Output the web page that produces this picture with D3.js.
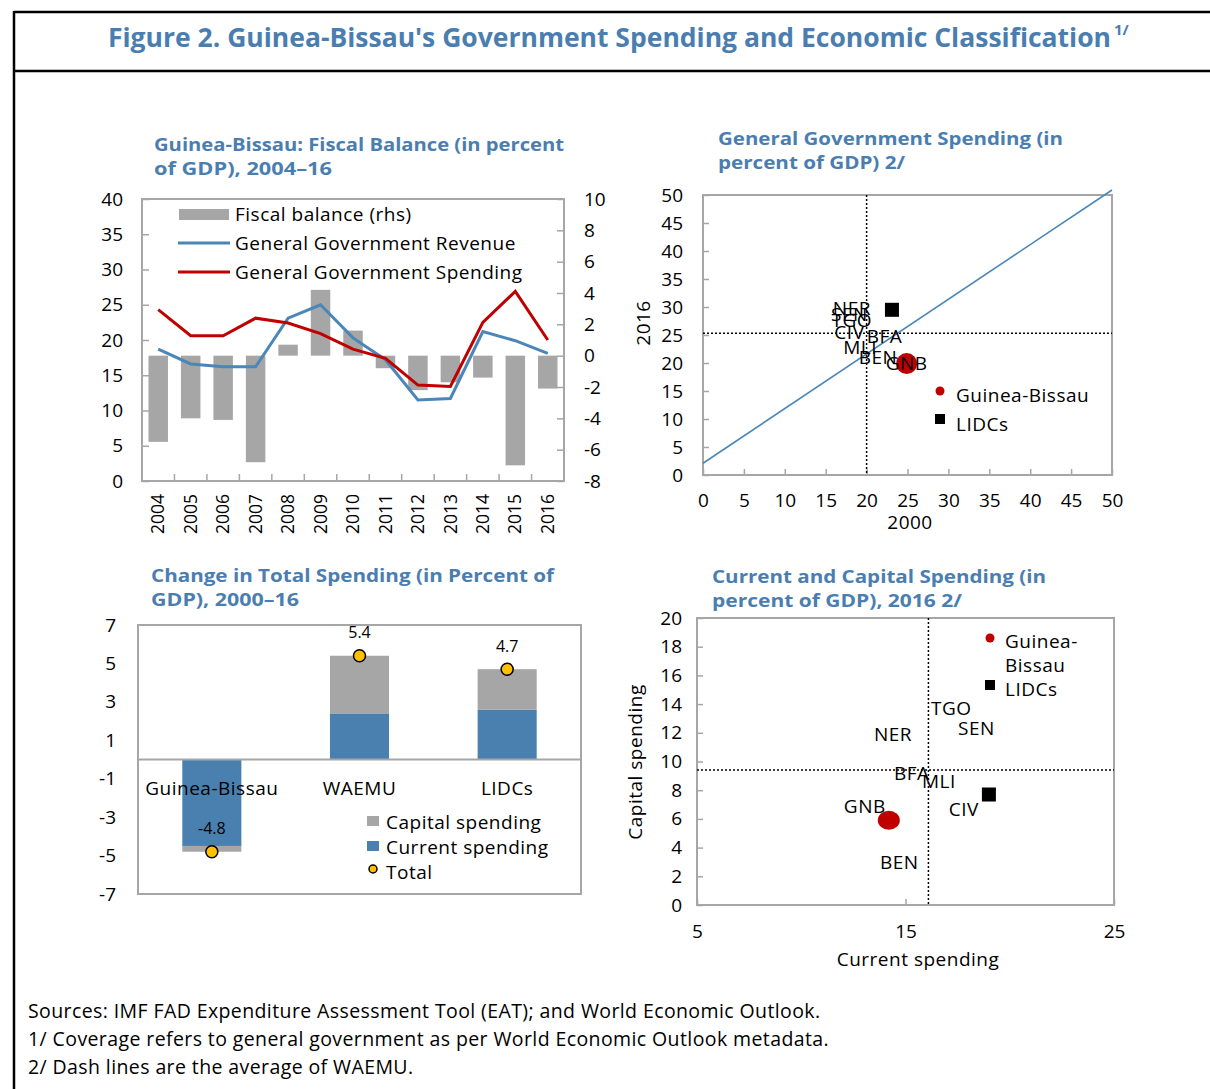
<!DOCTYPE html>
<html>
<head>
<meta charset="utf-8">
<script src="https://cdn.jsdelivr.net/npm/d3@7"></script>
<style>
  body { margin: 0; background: #fff; }
  svg { display: block; }
  text { font-family: "Open Sans", "Noto Sans", sans-serif; fill: #000; }
  .lbl { letter-spacing: 0.5px; }
</style>
</head>
<body>
<svg id="fig" width="1210" height="1089"></svg>
<script>
// ---------- Panel 1: fiscal balance, revenue and spending, 2004-16 ----------
const years = ["2004","2005","2006","2007","2008","2009","2010","2011","2012","2013","2014","2015","2016"];
const fiscalBalance = [-5.5, -4.0, -4.1, -6.8, 0.7, 4.2, 1.6, -0.8, -2.2, -1.7, -1.4, -7.0, -2.1];
const govRevenue   = [18.7, 16.6, 16.2, 16.2, 23.1, 25.0, 20.3, 17.2, 11.5, 11.7, 21.2, 19.9, 18.1];
const govSpending  = [24.3, 20.6, 20.6, 23.1, 22.4, 20.9, 18.7, 17.4, 13.6, 13.4, 22.5, 26.9, 20.0];
const lhsTicks = [0, 5, 10, 15, 20, 25, 30, 35, 40];
const rhsTicks = [-8, -6, -4, -2, 0, 2, 4, 6, 8, 10];

// ---------- Panel 2: spending 2000 vs 2016 ----------
const waemuCodes = ["NER", "SEN", "TGO", "CIV", "BFA", "MLI", "BEN", "GNB"];
const spend2000  = [18.2, 17.9, 18.2, 17.9, 22.2, 19.2, 21.4, 24.9];
const spend2016  = [29.8, 28.6, 27.7, 25.5, 24.8, 22.8, 21.0, 19.9];
const lidcSpend2000 = [23.1];
const lidcSpend2016 = [29.5];
const waemuAvg2000 = [20.0];
const waemuAvg2016 = [25.3];
const trendX = [0, 50];
const trendY = [2.1, 50.9];
const scatterTicks = [0, 5, 10, 15, 20, 25, 30, 35, 40, 45, 50];

// ---------- Panel 3: change in total spending, 2000-16 ----------
const groups = ["Guinea-Bissau", "WAEMU", "LIDCs"];
const currentChange = [-4.5, 2.4, 2.6];
const capitalChange = [-0.3, 3.0, 2.1];
const totalChange   = [-4.8, 5.4, 4.7];
const changeTicks = [-7, -5, -3, -1, 1, 3, 5, 7];

// ---------- Panel 4: current vs capital spending, 2016 ----------
const codes2016    = ["TGO", "SEN", "NER", "BFA", "MLI", "CIV", "GNB", "BEN"];
const currentSpend = [17.2, 18.4, 14.4, 15.3, 16.6, 17.8, 14.2, 14.7];
const capitalSpend = [13.7, 12.3, 11.9, 9.2, 8.65, 6.7, 5.9, 2.95];
const lidcCurrent = [19.0];
const lidcCapital = [7.7];
const waemuAvgCurrent = [16.1];
const waemuAvgCapital = [9.4];
const currentTicks = [5, 15, 25];
const capitalTicks = [0, 2, 4, 6, 8, 10, 12, 14, 16, 18, 20];

// ---------- styles ----------
const BLUE_TITLE = "#4a7eb0";
const FRAME = "#a6a6a6";
const GREY = "#a6a6a6";
const LINE_BLUE = "#4a86b8";
const RED = "#c00000";
const BAR_BLUE = "#4a80b0";
const GOLD = "#ffc000";
const FS = 19;
const plain = d => String(d).replace("\u2212", "-");

const svg = d3.select("#fig");
svg.append("rect").attr("width", 1210).attr("height", 1089).attr("fill", "#fff");

// outer box and title band
svg.append("line").attr("x1", 14).attr("x2", 1210).attr("y1", 12).attr("y2", 12).attr("stroke", "#000").attr("stroke-width", 2.5);
svg.append("line").attr("x1", 14).attr("x2", 1210).attr("y1", 71).attr("y2", 71).attr("stroke", "#000").attr("stroke-width", 2.5);
svg.append("line").attr("x1", 14).attr("x2", 14).attr("y1", 11).attr("y2", 1089).attr("stroke", "#000").attr("stroke-width", 2.5);

// figure title with its footnote marker in one text element
const title = svg.append("text").attr("x", 108).attr("y", 47)
  .style("font-weight", "bold").style("fill", BLUE_TITLE);
title.append("tspan")
  .attr("textLength", 1003).attr("lengthAdjust", "spacingAndGlyphs")
  .style("font-size", "27px")
  .text("Figure 2. Guinea-Bissau's Government Spending and Economic Classification");
title.append("tspan").attr("dx", 3).attr("dy", -12)
  .style("font-size", "15px")
  .text("1/");

function subtitle(x, lines) {
  lines.forEach(l => {
    svg.append("text").attr("x", x).attr("y", l.y)
      .attr("textLength", l.w).attr("lengthAdjust", "spacingAndGlyphs")
      .style("font-size", "17.5px").style("font-weight", "bold").style("fill", BLUE_TITLE)
      .text(l.t);
  });
}
function frame(g, x0, x1, y0, y1) {
  g.append("rect").attr("x", x0).attr("y", y0).attr("width", x1 - x0).attr("height", y1 - y0)
    .attr("fill", "none").attr("stroke", FRAME).attr("stroke-width", 2);
}
function styleAxis(sel) {
  sel.select(".domain").remove();
  sel.selectAll(".tick line").attr("stroke", FRAME).attr("stroke-width", 1.5);
  sel.selectAll(".tick text").style("font-size", FS + "px").style("font-family", '"Open Sans", sans-serif').attr("fill", "#000");
}
function label(g, x, y, t, anchor) {
  return g.append("text").attr("class", "lbl").attr("x", x).attr("y", y).attr("dy", "0.35em")
    .attr("text-anchor", anchor || "start").style("font-size", FS + "px").text(t);
}

// ================= Panel 1 =================
subtitle(154, [
  { t: "Guinea-Bissau: Fiscal Balance (in percent", y: 151, w: 410 },
  { t: "of GDP), 2004\u201316", y: 175, w: 178 }
]);
{
  const g = svg.append("g");
  const L = 142, R = 564, T = 199, B = 481;
  const x = d3.scaleBand().domain(years).range([L, R]).paddingInner(0.4).paddingOuter(0.2);
  const yL = d3.scaleLinear().domain([0, 40]).range([B, T]);
  const yR = d3.scaleLinear().domain([-8, 10]).range([B, T]);

  // bars on rhs scale
  g.selectAll("rect.fb").data(years).join("rect").attr("class", "fb")
    .attr("x", d => x(d))
    .attr("width", x.bandwidth())
    .attr("y", (d, i) => yR(Math.max(0, fiscalBalance[i])))
    .attr("height", (d, i) => Math.abs(yR(fiscalBalance[i]) - yR(0)))
    .attr("fill", GREY);

  const line = d3.line().x((d, i) => x(years[i]) + x.bandwidth() / 2).y(d => yL(d));
  g.append("path").datum(govRevenue).attr("d", line).attr("fill", "none").attr("stroke", LINE_BLUE).attr("stroke-width", 3);
  g.append("path").datum(govSpending).attr("d", line).attr("fill", "none").attr("stroke", RED).attr("stroke-width", 3);

  frame(g, L, R, T, B);

  g.append("g").attr("transform", `translate(${L},0)`)
    .call(d3.axisLeft(yL).tickValues(lhsTicks).tickFormat(plain).tickSizeInner(-7).tickPadding(19))
    .call(styleAxis);
  g.append("g").attr("transform", `translate(${R},0)`)
    .call(d3.axisRight(yR).tickValues(rhsTicks).tickFormat(plain).tickSizeInner(-7).tickPadding(20))
    .call(styleAxis);

  // category boundary ticks on the bottom edge
  const step = x.step();
  g.selectAll("line.bt").data(years.slice(1)).join("line").attr("class", "bt")
    .attr("x1", d => x(d) + x.bandwidth() / 2 - step / 2)
    .attr("x2", d => x(d) + x.bandwidth() / 2 - step / 2)
    .attr("y1", B).attr("y2", B - 7).attr("stroke", FRAME).attr("stroke-width", 1.5);

  g.selectAll("text.yr").data(years).join("text").attr("class", "yr")
    .attr("transform", d => `translate(${x(d) + x.bandwidth() / 2},494) rotate(-90)`)
    .attr("text-anchor", "end").attr("dy", "0.35em")
    .style("font-size", "17.5px").text(d => d);

  // legend
  const lg = g.append("g");
  lg.append("rect").attr("x", 179).attr("y", 209).attr("width", 50).attr("height", 11).attr("fill", GREY);
  lg.append("line").attr("x1", 178).attr("x2", 230).attr("y1", 243).attr("y2", 243).attr("stroke", LINE_BLUE).attr("stroke-width", 3);
  lg.append("line").attr("x1", 178).attr("x2", 230).attr("y1", 272).attr("y2", 272).attr("stroke", RED).attr("stroke-width", 3);
  label(lg, 235, 214, "Fiscal balance (rhs)");
  label(lg, 235, 243, "General Government Revenue");
  label(lg, 235, 272, "General Government Spending");
}

// ================= Panel 2 =================
subtitle(718, [
  { t: "General Government Spending (in", y: 145, w: 345 },
  { t: "percent of GDP) 2/", y: 169, w: 187 }
]);
{
  const g = svg.append("g");
  const L = 703, R = 1112, T = 195, B = 475;
  const x = d3.scaleLinear().domain([0, 50]).range([L, R]);
  const y = d3.scaleLinear().domain([0, 50]).range([B, T]);

  frame(g, L, R, T, B);
  g.append("g").attr("transform", `translate(0,${B})`)
    .call(d3.axisBottom(x).tickValues(scatterTicks).tickFormat(plain).tickSizeInner(-6).tickPadding(19))
    .call(styleAxis);
  g.append("g").attr("transform", `translate(${L},0)`)
    .call(d3.axisLeft(y).tickValues(scatterTicks).tickFormat(plain).tickSizeInner(-6).tickPadding(20))
    .call(styleAxis);

  // WAEMU averages
  g.append("line").attr("x1", x(waemuAvg2000[0])).attr("x2", x(waemuAvg2000[0])).attr("y1", T).attr("y2", B)
    .attr("stroke", "#000").attr("stroke-width", 1.5).attr("stroke-dasharray", "2,2");
  g.append("line").attr("x1", L).attr("x2", R).attr("y1", y(waemuAvg2016[0])).attr("y2", y(waemuAvg2016[0]))
    .attr("stroke", "#000").attr("stroke-width", 1.5).attr("stroke-dasharray", "2,2");

  // trend line
  g.append("line").attr("x1", x(trendX[0])).attr("y1", y(trendY[0])).attr("x2", x(trendX[1])).attr("y2", y(trendY[1]))
    .attr("stroke", LINE_BLUE).attr("stroke-width", 1.6);

  // LIDCs and Guinea-Bissau markers
  g.append("rect").attr("x", x(lidcSpend2000[0]) - 7).attr("y", y(lidcSpend2016[0]) - 7).attr("width", 14).attr("height", 14).attr("fill", "#000");
  const gi = waemuCodes.indexOf("GNB");
  g.append("circle").attr("cx", x(spend2000[gi])).attr("cy", y(spend2016[gi])).attr("r", 10.5).attr("fill", RED);

  // country labels
  waemuCodes.forEach((d, i) => label(g, x(spend2000[i]), y(spend2016[i]), d, "middle"));

  // axis titles
  label(g, 910, 522, "2000", "middle");
  g.append("text").attr("class", "lbl").attr("transform", "translate(643,323) rotate(-90)").attr("dy", "0.35em")
    .attr("text-anchor", "middle").style("font-size", FS + "px").text("2016");

  // legend
  g.append("circle").attr("cx", 940).attr("cy", 391).attr("r", 4.5).attr("fill", RED);
  label(g, 956, 395, "Guinea-Bissau");
  g.append("rect").attr("x", 935).attr("y", 414).attr("width", 10).attr("height", 10).attr("fill", "#000");
  label(g, 956, 424, "LIDCs");
}

// ================= Panel 3 =================
subtitle(151, [
  { t: "Change in Total Spending (in Percent of", y: 582, w: 403 },
  { t: "GDP), 2000\u201316", y: 606, w: 148 }
]);
{
  const g = svg.append("g");
  const L = 138, R = 581, T = 625, B = 894;
  const x = d3.scaleBand().domain(groups).range([L, R]).paddingInner(0.6).paddingOuter(0.3);
  const y = d3.scaleLinear().domain([-7, 7]).range([B, T]);

  const rows = groups.map((k, i) => ({ group: k, current: currentChange[i], capital: capitalChange[i] }));
  const series = d3.stack().keys(["current", "capital"]).offset(d3.stackOffsetDiverging)(rows);
  const colors = { current: BAR_BLUE, capital: GREY };

  series.forEach(s => {
    g.selectAll(null).data(s).join("rect")
      .attr("x", d => x(d.data.group))
      .attr("width", x.bandwidth())
      .attr("y", d => y(Math.max(d[0], d[1])))
      .attr("height", d => Math.abs(y(d[0]) - y(d[1])))
      .attr("fill", colors[s.key]);
  });

  frame(g, L, R, T, B);
  g.append("line").attr("x1", L).attr("x2", R).attr("y1", y(0)).attr("y2", y(0)).attr("stroke", FRAME).attr("stroke-width", 2);

  g.append("g").attr("transform", `translate(${L},0)`)
    .call(d3.axisLeft(y).tickValues(changeTicks).tickFormat(plain).tickSizeInner(0).tickPadding(22))
    .call(styleAxis);

  // totals
  g.selectAll("circle.tot").data(groups).join("circle").attr("class", "tot")
    .attr("cx", d => x(d) + x.bandwidth() / 2).attr("cy", (d, i) => y(totalChange[i]))
    .attr("r", 6).attr("fill", GOLD).attr("stroke", "#000").attr("stroke-width", 1.5);
  g.selectAll("text.tl").data(groups).join("text").attr("class", "tl")
    .attr("x", d => x(d) + x.bandwidth() / 2).attr("y", (d, i) => y(totalChange[i]) - 23)
    .attr("text-anchor", "middle").attr("dy", "0.35em").style("font-size", "16px")
    .text((d, i) => plain(d3.format(".1f")(totalChange[i])));

  // category labels
  groups.forEach(d => label(g, x(d) + x.bandwidth() / 2, 788, d, "middle"));

  // legend
  g.append("rect").attr("x", 367).attr("y", 816).attr("width", 12).attr("height", 10).attr("fill", GREY);
  label(g, 386, 822, "Capital spending");
  g.append("rect").attr("x", 367).attr("y", 841).attr("width", 12).attr("height", 10).attr("fill", BAR_BLUE);
  label(g, 386, 847, "Current spending");
  g.append("circle").attr("cx", 373).attr("cy", 869).attr("r", 4).attr("fill", GOLD).attr("stroke", "#000").attr("stroke-width", 1.5);
  label(g, 386, 872, "Total");
}

// ================= Panel 4 =================
subtitle(712, [
  { t: "Current and Capital Spending (in", y: 583, w: 334 },
  { t: "percent of GDP), 2016 2/", y: 607, w: 250 }
]);
{
  const g = svg.append("g");
  const L = 697, R = 1114, T = 618, B = 905;
  const x = d3.scaleLinear().domain([5, 25]).range([L, R]);
  const y = d3.scaleLinear().domain([0, 20]).range([B, T]);

  frame(g, L, R, T, B);
  g.append("g").attr("transform", `translate(0,${B})`)
    .call(d3.axisBottom(x).tickValues(currentTicks).tickFormat(plain).tickSizeInner(-6).tickPadding(20))
    .call(styleAxis);
  g.append("g").attr("transform", `translate(${L},0)`)
    .call(d3.axisLeft(y).tickValues(capitalTicks).tickFormat(plain).tickSizeInner(-6).tickPadding(15))
    .call(styleAxis);

  g.append("line").attr("x1", x(waemuAvgCurrent[0])).attr("x2", x(waemuAvgCurrent[0])).attr("y1", T).attr("y2", B)
    .attr("stroke", "#000").attr("stroke-width", 1.5).attr("stroke-dasharray", "2,2");
  g.append("line").attr("x1", L).attr("x2", R).attr("y1", y(waemuAvgCapital[0])).attr("y2", y(waemuAvgCapital[0]))
    .attr("stroke", "#000").attr("stroke-width", 1.5).attr("stroke-dasharray", "2,2");

  g.append("rect").attr("x", x(lidcCurrent[0]) - 7).attr("y", y(lidcCapital[0]) - 7).attr("width", 14).attr("height", 14).attr("fill", "#000");
  const gi = codes2016.indexOf("GNB");
  g.append("ellipse").attr("cx", x(currentSpend[gi])).attr("cy", y(capitalSpend[gi])).attr("rx", 11).attr("ry", 9.5).attr("fill", RED);

  // labels: GNB sits up and to the left of its marker
  codes2016.forEach((d, i) => label(g,
    x(currentSpend[i]) + (d === "GNB" ? -24 : 0),
    y(capitalSpend[i]) + (d === "GNB" ? -14 : 0), d, "middle"));

  label(g, 918, 959, "Current spending", "middle");
  g.append("text").attr("class", "lbl").attr("transform", "translate(635,762) rotate(-90)").attr("dy", "0.35em")
    .attr("text-anchor", "middle").style("font-size", FS + "px").text("Capital spending");

  g.append("circle").attr("cx", 990).attr("cy", 638).attr("r", 4.5).attr("fill", RED);
  label(g, 1005, 641, "Guinea-");
  label(g, 1005, 665, "Bissau");
  g.append("rect").attr("x", 985).attr("y", 680).attr("width", 10).attr("height", 10).attr("fill", "#000");
  label(g, 1005, 689, "LIDCs");
}

// ---------- footnotes ----------
[
  ["Sources: IMF FAD Expenditure Assessment Tool (EAT); and World Economic Outlook.", 1011],
  ["1/ Coverage refers to general government as per World Economic Outlook metadata.", 1039],
  ["2/ Dash lines are the average of WAEMU.", 1067]
].forEach(([t, yy]) => {
  svg.append("text").attr("x", 28).attr("y", yy).attr("dy", "0.35em")
    .style("font-size", "19.5px").style("letter-spacing", "0.4px").text(t);
});
</script>
</body>
</html>
